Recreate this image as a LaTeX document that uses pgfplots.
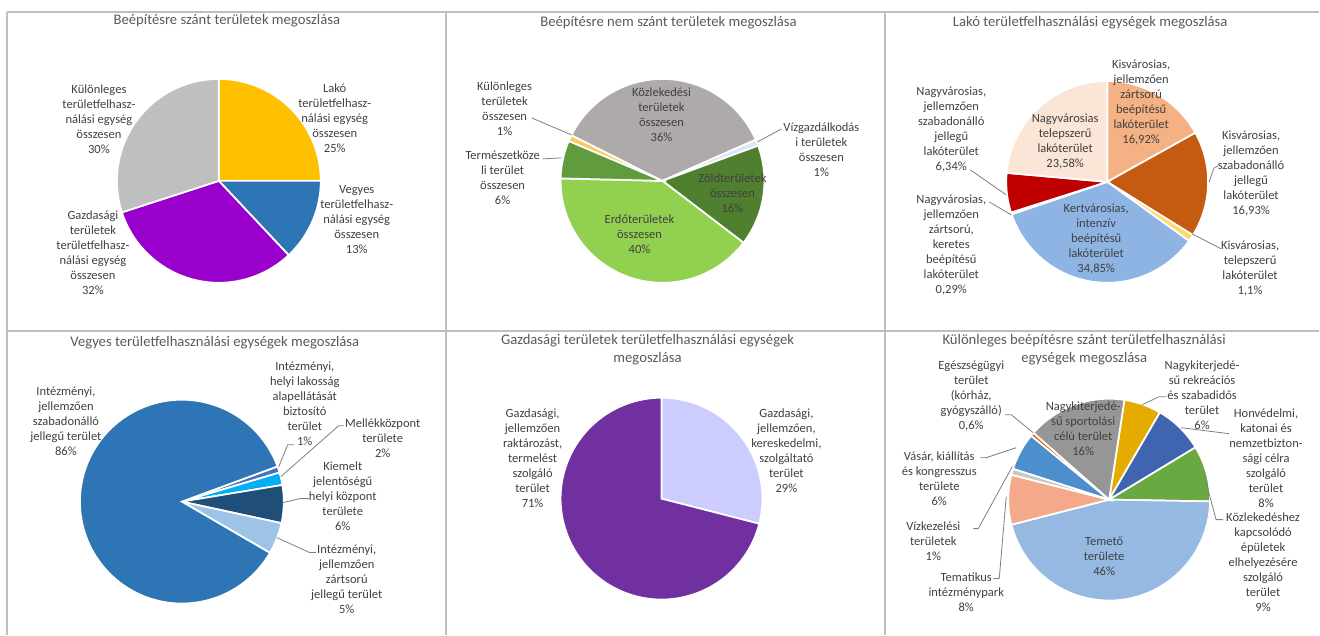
\documentclass[border=0pt]{standalone}
\usepackage{fontspec}
\setmainfont{Carlito}
\usepackage{pgfplots}
\pgfplotsset{compat=1.18}

\definecolor{framegray}{HTML}{BFBFBF}
\definecolor{labelgray}{HTML}{404040}
\definecolor{titlegray}{HTML}{595959}
\definecolor{leadgray}{HTML}{7F7F7F}
% pie 1
\definecolor{aLako}{HTML}{FFC000}
\definecolor{aVegyes}{HTML}{2E75B6}
\definecolor{aGazd}{HTML}{9900CC}
\definecolor{aKul}{HTML}{BFBFBF}
% pie 2
\definecolor{bKul}{HTML}{F9C95B}
\definecolor{bKozl}{HTML}{AEAAAA}
\definecolor{bViz}{HTML}{DAE8F6}
\definecolor{bZold}{HTML}{507F30}
\definecolor{bErdo}{HTML}{92D050}
\definecolor{bTerm}{HTML}{609B3D}
% pie 3
\definecolor{cKisZart}{HTML}{F4B183}
\definecolor{cKisSzab}{HTML}{C55A11}
\definecolor{cKisTel}{HTML}{FFD966}
\definecolor{cKert}{HTML}{8EB4E3}
\definecolor{cNagyZart}{HTML}{A6A6A6}
\definecolor{cNagySzab}{HTML}{C00000}
\definecolor{cNagyTel}{HTML}{FBE5D6}
% pie 4
\definecolor{dHelyi}{HTML}{4472C4}
\definecolor{dMellek}{HTML}{00B0F0}
\definecolor{dKiemelt}{HTML}{1F4E79}
\definecolor{dZart}{HTML}{9DC3E6}
\definecolor{dSzab}{HTML}{2E75B6}
% pie 5
\definecolor{eKer}{HTML}{CCCCFF}
\definecolor{eRakt}{HTML}{7030A0}
% pie 6
\definecolor{fRekr}{HTML}{E4AC00}
\definecolor{fHonv}{HTML}{3F64B0}
\definecolor{fKozl}{HTML}{6AA842}
\definecolor{fTemeto}{HTML}{95B9E1}
\definecolor{fTemat}{HTML}{F4A98A}
\definecolor{fViz}{HTML}{C8C8C8}
\definecolor{fVasar}{HTML}{4C8FCC}
\definecolor{fEgesz}{HTML}{E26B0A}
\definecolor{fSport}{HTML}{969696}

\tikzset{
  lbl/.style={align=center, font=\fontsize{9.4}{11.25}\selectfont, text=labelgray, inner sep=0pt},
  ttl/.style={align=center, font=\fontsize{11}{13.75}\selectfont, text=titlegray, inner sep=0pt},
  lead/.style={draw=leadgray, line width=0.6pt},
}

% \pie{cx}{cy}{r}{start angle, clockwise from 12 o'clock}{value/colour, ...}
\newcommand\pie[5]{%
  \xdef\pietotal{0}%
  \foreach \pv/\pc in {#5}{\pgfmathsetmacro\ptmp{\pietotal+\pv}\global\let\pietotal\ptmp}%
  \xdef\piecum{#4}%
  \foreach \pv/\pc in {#5}{%
    \pgfmathsetmacro\pa{\piecum}%
    \pgfmathsetmacro\pb{\piecum+\pv/\pietotal*360}%
    \pgfmathtruncatemacro\pn{max(3,abs(\pb-\pa)/2)}%
    \edef\temp{\noexpand\addplot[fill=\pc, draw=white, line width=1.3pt,
        domain=\pa:\pb, samples=\pn]
      ({#1+#3*sin(x)},{#2-#3*cos(x)}) -- (#1,#2) -- cycle;}%
    \temp
    \xdef\piecum{\pb}%
  }%
}

\begin{document}
\begin{tikzpicture}
\begin{axis}[
  scale only axis, width=990pt, height=476.25pt,
  xmin=0, xmax=1320, ymin=0, ymax=635, y dir=reverse,
  hide axis, clip=false,
]
\path (0,0) rectangle (1320,635);

% panel frames
\draw[framegray, line width=1.5pt] (7,12) -- (1320,12);
\draw[framegray, line width=1.5pt] (7,331) -- (1320,331);
\draw[framegray, line width=1.5pt] (7,12) -- (7,635);
\draw[framegray, line width=1.5pt] (446,12) -- (446,635);
\draw[framegray, line width=1.5pt] (886,12) -- (886,635);

% ---------- 1: Beépítésre szánt területek ----------
\pie{219}{181}{102}{0}{25/aLako, 13/aVegyes, 32/aGazd, 30/aKul}
\node[ttl] at (227,21) {Beépítésre szánt területek megoszlása};
\node[lbl] at (335,118) {Lakó\\területfelhasz-\\nálási egység\\összesen\\25\%};
\node[lbl] at (357,220) {Vegyes\\területfelhasz-\\nálási egység\\összesen\\13\%};
\node[lbl] at (93,253) {Gazdasági\\területek\\területfelhasz-\\nálási egység\\összesen\\32\%};
\node[lbl] at (99,119) {Különleges\\területfelhasz-\\nálási egység\\összesen\\30\%};

% ---------- 2: Beépítésre nem szánt területek ----------
\pie{663}{181}{102}{293}{1/bKul, 36/bKozl, 1/bViz, 16/bZold, 40/bErdo, 6/bTerm}
\node[ttl] at (669,23) {Beépítésre nem szánt területek megoszlása};
\node[lbl] at (505,109) {Különleges\\területek\\összesen\\1\%};
\node[lbl] at (503,178) {Természetköze\\li terület\\összesen\\6\%};
\node[lbl] at (662,115) {Közlekedési\\területek\\összesen\\36\%};
\node[lbl] at (822,150) {Vízgazdálkodás\\i területek\\összesen\\1\%};
\node[lbl] at (733,193) {Zöldterületek\\összesen\\16\%};
\node[lbl] at (640,234) {Erdőterületek\\összesen\\40\%};
\draw[lead] (532,118) -- (572,135);
\draw[lead] (543,159) -- (562,158);
\draw[lead] (782,129) -- (758,142);

% ---------- 3: Lakó területfelhasználási egységek ----------
\pie{1108}{182}{101}{0}{16.92/cKisZart, 16.93/cKisSzab, 1.1/cKisTel, 34.85/cKert, 0.29/cNagyZart, 6.34/cNagySzab, 23.58/cNagyTel}
\node[ttl] at (1091,23) {Lakó területfelhasználási egységek megoszlása};
\node[lbl] at (1142,102.5) {Kisvárosias,\\jellemzően\\zártsorú\\beépítésű\\lakóterület\\16,92\%};
\node[lbl] at (1252,174) {Kisvárosias,\\jellemzően\\szabadonálló\\jellegű\\lakóterület\\16,93\%};
\node[lbl] at (1251,268.5) {Kisvárosias,\\telepszerű\\lakóterület\\1,1\%};
\node[lbl] at (1097,239) {Kertvárosias,\\intenzív\\beépítésű\\lakóterület\\34,85\%};
\node[lbl] at (952,245.5) {Nagyvárosias,\\jellemzően\\zártsorú,\\keretes\\beépítésű\\lakóterület\\0,29\%};
\node[lbl] at (952,129.5) {Nagyvárosias,\\jellemzően\\szabadonálló\\jellegű\\lakóterület\\6,34\%};
\node[lbl] at (1066,142) {Nagyvárosias\\telepszerű\\lakóterület\\23,58\%};
\draw[lead] (1219,166) -- (1215,168) -- (1210,182);
\draw[lead] (1222,249) -- (1193,234);
\draw[lead] (990,202) -- (1012,215);
\draw[lead] (971,170) -- (1007,195);

% ---------- 4: Vegyes területfelhasználási egységek ----------
\pie{182}{502}{102}{69.8}{1/dHelyi, 2/dMellek, 6/dKiemelt, 5/dZart, 86/dSzab}
\node[ttl] at (215,343) {Vegyes területfelhasználási egységek megoszlása};
\node[lbl] at (66,422) {Intézményi,\\jellemzően\\szabadonálló\\jellegű terület\\86\%};
\node[lbl] at (305,404.5) {Intézményi,\\helyi lakosság\\alapellátását\\biztosító\\terület\\1\%};
\node[lbl] at (383,439) {Mellékközpont\\területe\\2\%};
\node[lbl] at (343,497) {Kiemelt\\jelentőségű\\helyi központ\\területe\\6\%};
\node[lbl] at (347,580) {Intézményi,\\jellemzően\\zártsorú\\jellegű terület\\5\%};
\draw[lead] (294,445) -- (288,445) -- (279,467);
\draw[lead] (344,426) -- (339,426) -- (281,477);
\draw[lead] (309,499) -- (300,499) -- (283,503);
\draw[lead] (316,553) -- (310,553) -- (277,538);

% ---------- 5: Gazdasági területek ----------
\pie{662}{499}{101}{0}{29/eKer, 71/eRakt}
\node[ttl] at (648,350) {Gazdasági területek területfelhasználási egységek\\megoszlása};
\node[lbl] at (533,459) {Gazdasági,\\jellemzően\\raktározást,\\termelést\\szolgáló\\terület\\71\%};
\node[lbl] at (787,451.5) {Gazdasági,\\jellemzően,\\kereskedelmi,\\szolgáltató\\terület\\29\%};

% ---------- 6: Különleges beépítésre szánt ----------
\pie{1110}{500}{101}{8.7}{6/fRekr, 8/fHonv, 9/fKozl, 46/fTemeto, 8/fTemat, 1/fViz, 6/fVasar, 0.6/fEgesz, 16/fSport}
\node[ttl] at (1085,350) {Különleges beépítésre szánt területfelhasználási\\egységek megoszlása};
\node[lbl] at (972,396.5) {Egészségügyi\\terület\\(kórház,\\gyógyszálló)\\0,6\%};
\node[lbl] at (1084,429) {Nagykiterjedé-\\sű sportolási\\célú terület\\16\%};
\node[lbl] at (1203,395.5) {Nagykiterjedé-\\sű rekreációs\\és szabadidős\\terület\\6\%};
\node[lbl] at (1267,459) {Honvédelmi,\\katonai és\\nemzetbizton-\\sági célra\\szolgáló\\terület\\8\%};
\node[lbl] at (1264,563) {Közlekedéshez\\kapcsolódó\\épületek\\elhelyezésére\\szolgáló\\terület\\9\%};
\node[lbl] at (1105,557) {Temető\\területe\\46\%};
\node[lbl] at (940,479.5) {Vásár, kiállítás\\és kongresszus\\területe\\6\%};
\node[lbl] at (934,542) {Vízkezelési\\területek\\1\%};
\node[lbl] at (967,592.5) {Tematikus\\intézménypark\\8\%};
\draw[lead] (1006,415) -- (1012,415) -- (1034,433);
\draw[lead] (1167,397) -- (1160,397) -- (1143,405);
\draw[lead] (1182,428) -- (1230,434);
\draw[lead] (1224,520) -- (1217,520) -- (1205,475);
\draw[lead] (981,458) -- (987,458) -- (1017,448);
\draw[lead] (974,529) -- (979,529) -- (1013,467);
\draw[lead] (994,579) -- (1000,579) -- (1007,497);
\end{axis}
\end{tikzpicture}
\end{document}
